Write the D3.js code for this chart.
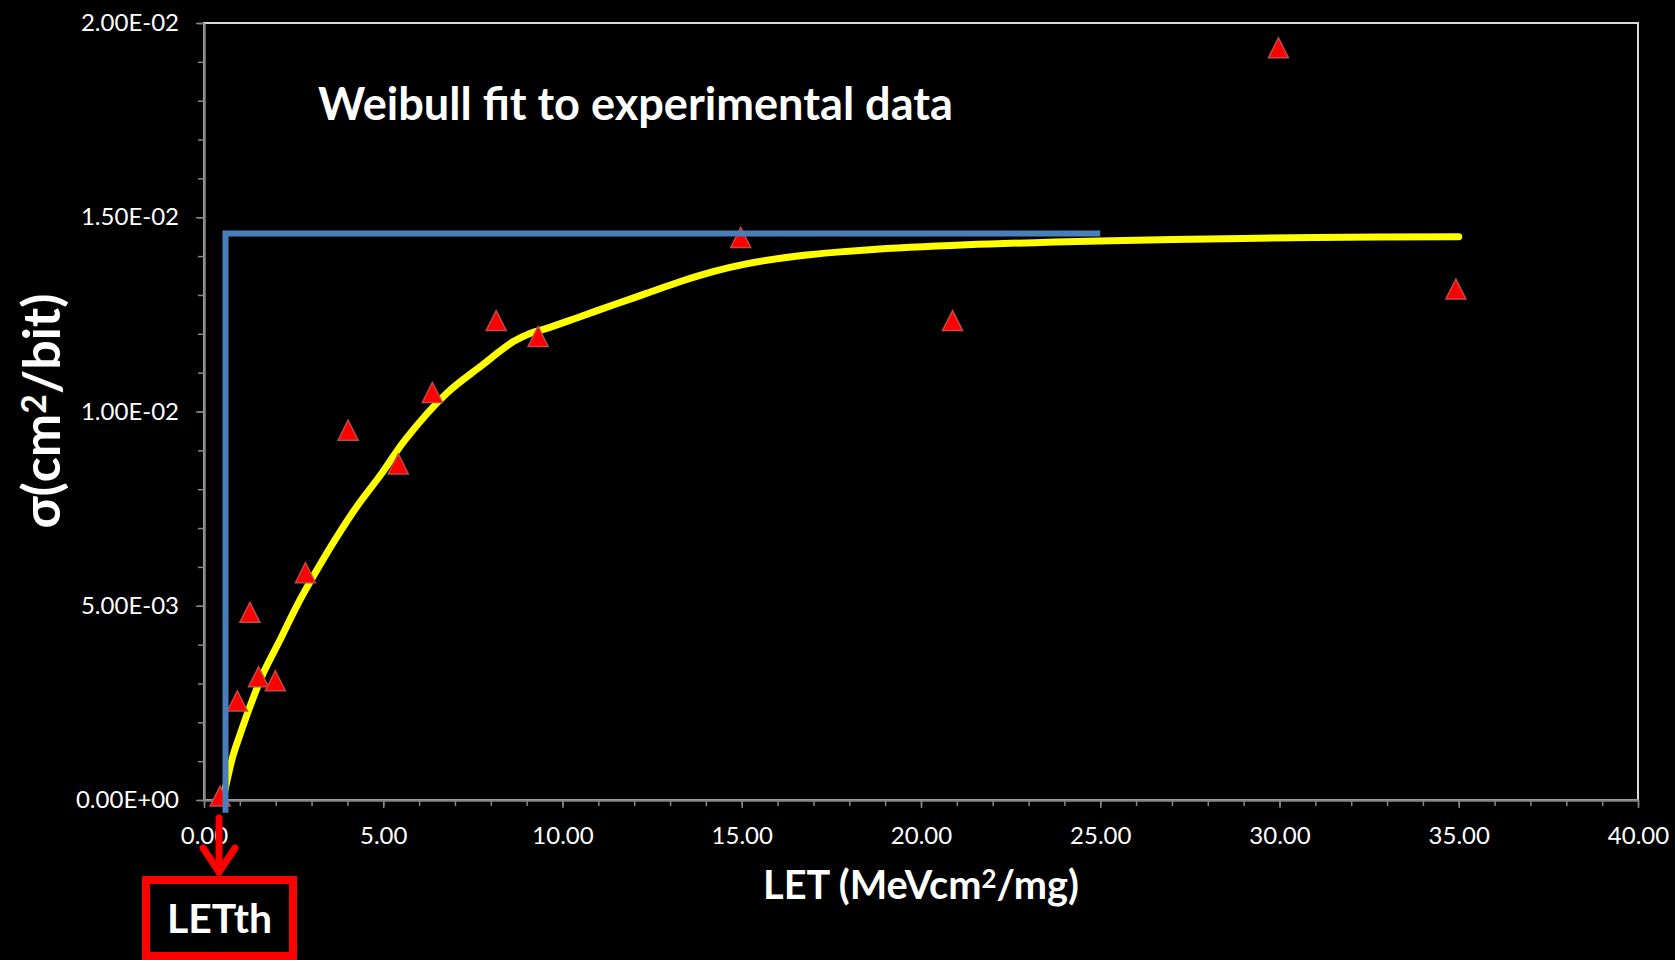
<!DOCTYPE html>
<html>
<head>
<meta charset="utf-8">
<script src="https://cdn.jsdelivr.net/npm/d3@7"></script>
<style>
  html, body { margin: 0; padding: 0; background: #000; }
  svg { display: block; }
  text { font-family: Lato, "Open Sans", sans-serif; }
</style>
</head>
<body>
<svg id="chart" width="1675" height="960"></svg>
<script>
// ---------------- data ----------------
const letMeasured   = [0.45, 0.93, 1.28, 1.52, 1.99, 2.83, 4.02, 5.42, 6.37, 8.15, 9.32, 14.97, 20.88, 29.97, 34.92];
const sigmaMeasured = [0.0001, 0.00255, 0.00483, 0.00317, 0.00307, 0.00585, 0.00952, 0.00865, 0.01049, 0.01234, 0.01193, 0.01448, 0.01234, 0.01936, 0.01315];

const letFit   = [0.55, 0.80, 1.00, 1.28, 1.65, 2.12, 2.58, 3.10, 3.65, 4.26, 4.96, 5.61, 6.77, 7.70, 8.63, 9.09, 9.56, 10.49, 11.41, 12.34, 13.27, 14.20, 15.13, 16.62, 18.48, 21.27, 24.99, 28.00, 31.00, 35.00];
const sigmaFit = [0.0001, 0.00111, 0.00167, 0.00240, 0.00326, 0.00412, 0.00498, 0.00584, 0.00669, 0.00755, 0.00841, 0.00927, 0.01047, 0.01115, 0.01180, 0.01201, 0.01214, 0.01244, 0.01274, 0.01304, 0.01334, 0.01360, 0.01380, 0.01401, 0.01416, 0.01429, 0.01439, 0.01444, 0.01448, 0.01450];

// saturation step (blue) : threshold LET and saturated cross-section
const letStep   = [0.60, 0.60, 25.0];
const sigmaStep = [-0.00033, 0.01458, 0.01458];

const letThresholdMark = 0.42;   // where the LETth arrow points

const xTicks = [0, 5, 10, 15, 20, 25, 30, 35, 40];
const yTicks = [0, 0.005, 0.01, 0.015, 0.02];
const xMinorTicks = d3.range(0, 41, 1);
const yMinorTicks = d3.range(0, 21, 1).map(d => d / 1000);

const chartTitle = "Weibull fit to experimental data";
const letthLabel = "LETth";

(function draw() {
  const svg = d3.select("#chart");
  const mLeft = 204, mRight = 1638, mTop = 23, mBottom = 800;

  const x = d3.scaleLinear().domain([0, 40]).range([mLeft, mRight]);
  const y = d3.scaleLinear().domain([0, 0.02]).range([mBottom, mTop]);

  const axisColor = "#868686";

  // plot area border
  svg.append("rect")
    .attr("x", mLeft).attr("y", mTop)
    .attr("width", mRight - mLeft).attr("height", mBottom - mTop)
    .attr("fill", "none").attr("stroke", "#d9d9d9").attr("stroke-width", 2);

  // minor ticks
  const yMinor = svg.append("g").attr("transform", `translate(${mLeft},0)`)
    .call(d3.axisLeft(y).tickValues(yMinorTicks).tickSize(6).tickSizeOuter(0).tickFormat(""));
  const xMinor = svg.append("g").attr("transform", `translate(0,${mBottom})`)
    .call(d3.axisBottom(x).tickValues(xMinorTicks).tickSize(6).tickSizeOuter(0).tickFormat(""));

  // major axes
  const fmtY = d => {
    const s = d.toExponential(2);
    const [m, e] = s.split("e");
    const sign = e[0] === "-" ? "-" : "+";
    const ex = Math.abs(+e).toString().padStart(2, "0");
    return `${m}E${sign}${ex}`;
  };
  const yAxis = svg.append("g").attr("transform", `translate(${mLeft},0)`)
    .call(d3.axisLeft(y).tickValues(yTicks).tickSize(8).tickSizeOuter(0).tickPadding(17).tickFormat(fmtY));
  const xAxis = svg.append("g").attr("transform", `translate(0,${mBottom})`)
    .call(d3.axisBottom(x).tickValues(xTicks).tickSize(8).tickSizeOuter(0).tickPadding(19).tickFormat(d3.format(".2f")));

  [yMinor, xMinor, yAxis, xAxis].forEach(g => {
    g.select(".domain").attr("stroke", axisColor).attr("stroke-width", 2);
    g.selectAll(".tick line").attr("stroke", axisColor).attr("stroke-width", 1.5);
  });
  [yAxis, xAxis].forEach(g => {
    g.selectAll(".tick text")
      .attr("fill", "#ffffff")
      .style("font-family", "Lato, sans-serif")
      .style("font-size", "24px");
  });

  // Weibull fit curve (yellow)
  const fitData = letFit.map((d, i) => [d, sigmaFit[i]]);
  svg.append("path")
    .datum(fitData)
    .attr("fill", "none")
    .attr("stroke", "#ffff00")
    .attr("stroke-width", 7)
    .attr("stroke-linecap", "round")
    .attr("stroke-linejoin", "round")
    .attr("d", d3.line().x(d => x(d[0])).y(d => y(d[1])).curve(d3.curveCatmullRom.alpha(0.5)));

  // measured points (red triangles)
  const tri = "M0,-10L10,10L-10,10Z";
  svg.append("g").selectAll("path")
    .data(letMeasured.map((d, i) => [d, sigmaMeasured[i]]))
    .join("path")
    .attr("d", tri)
    .attr("transform", d => `translate(${x(d[0])},${y(d[1])})`)
    .attr("fill", "#ff0000")
    .attr("stroke", "#be4b48")
    .attr("stroke-width", 1.5);

  // saturation step (blue)
  svg.append("path")
    .datum(letStep.map((d, i) => [d, sigmaStep[i]]))
    .attr("fill", "none")
    .attr("stroke", "#4a7ebb")
    .attr("stroke-width", 6)
    .attr("stroke-linejoin", "miter")
    .attr("d", d3.line().x(d => x(d[0])).y(d => y(d[1])));

  function fitWidth(sel, target) {
    const fs = parseFloat(sel.style("font-size"));
    const w = sel.node().getBBox().width;
    if (w > 0) sel.style("font-size", (fs * target / w).toFixed(2) + "px");
  }

  // title
  const title = svg.append("text")
    .attr("x", 318).attr("y", 120)
    .attr("fill", "#fff")
    .style("font-weight", "bold").style("font-size", "42px")
    .text(chartTitle);
  fitWidth(title, 635);

  // x axis title
  const xTitle = svg.append("text")
    .attr("x", 921).attr("y", 899)
    .attr("text-anchor", "middle")
    .attr("fill", "#fff")
    .style("font-weight", "bold").style("font-size", "35px");
  xTitle.append("tspan").text("LET (MeVcm");
  xTitle.append("tspan").attr("dy", "-0.42em").style("font-size", "65%").text("2");
  xTitle.append("tspan").attr("dy", "0.27em").text("/mg)");
  fitWidth(xTitle, 316);

  // y axis title
  const yTitle = svg.append("text")
    .attr("transform", "translate(60,411) rotate(-90)")
    .attr("text-anchor", "middle")
    .attr("fill", "#fff")
    .style("font-weight", "bold").style("font-size", "44px");
  yTitle.append("tspan").text("σ(cm");
  yTitle.append("tspan").attr("dy", "-0.42em").style("font-size", "65%").text("2");
  yTitle.append("tspan").attr("dy", "0.27em").text("/bit)");
  fitWidth(yTitle, 235);

  // LETth annotation: red arrow + red box
  const ax = x(letThresholdMark);
  const arrow = svg.append("g")
    .attr("stroke", "#ff0000").attr("stroke-width", 7)
    .attr("fill", "none").attr("stroke-linecap", "round").attr("stroke-linejoin", "round");
  arrow.append("line").attr("x1", ax).attr("x2", ax).attr("y1", 818).attr("y2", 872);
  arrow.append("polyline").attr("points", `${ax - 16},848 ${ax},872 ${ax + 16},848`);

  svg.append("rect")
    .attr("x", 146).attr("y", 880)
    .attr("width", 147).attr("height", 76)
    .attr("fill", "none").attr("stroke", "#ff0000").attr("stroke-width", 8);

  const lt = svg.append("text")
    .attr("x", 219.5).attr("y", 933)
    .attr("text-anchor", "middle")
    .attr("fill", "#fff")
    .style("font-weight", "bold").style("font-size", "42px")
    .text(letthLabel);
  fitWidth(lt, 105);
})();
</script>
</body>
</html>
